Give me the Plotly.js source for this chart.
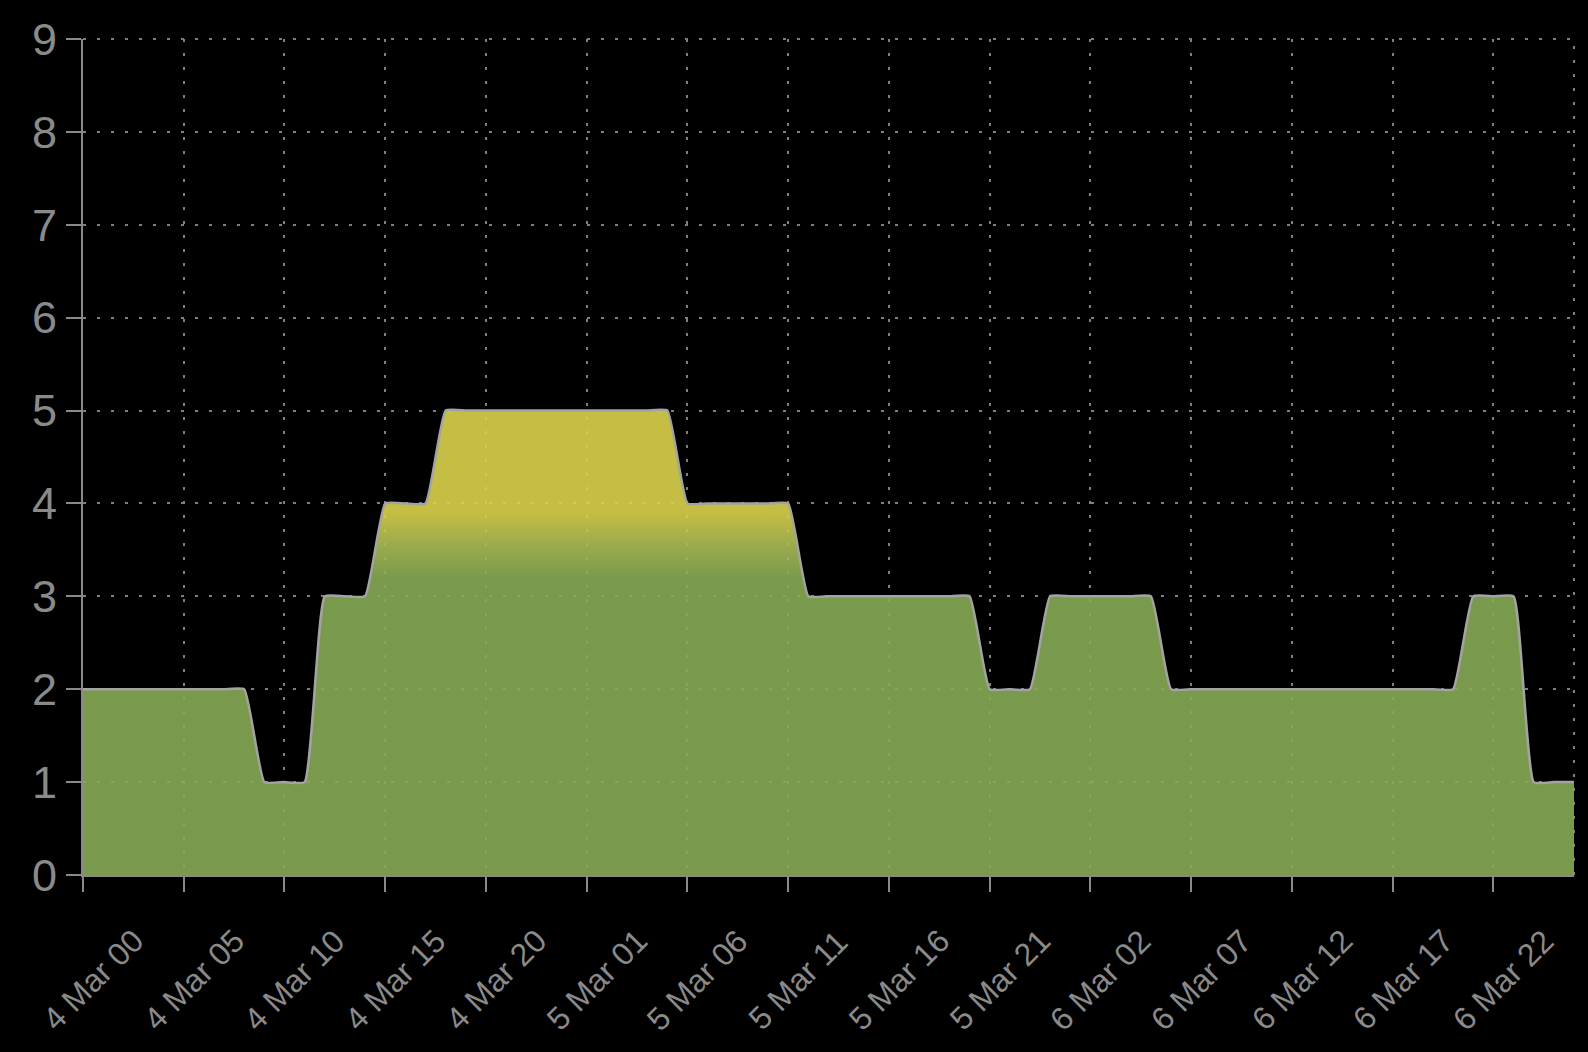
<!DOCTYPE html>
<html>
<head>
<meta charset="utf-8">
<script src="https://cdn.plot.ly/plotly-3.0.1.min.js"></script>
<style>
  html, body { margin: 0; padding: 0; background: #000; }
  #chart { width: 1588px; height: 1052px; }
</style>
</head>
<body>
<div id="chart"></div>
<script>
// Hourly readings starting 4 Mar 00:00
const startTime = '2024-03-04T00:00:00';
const hourlyValues = [
  2, 2, 2, 2, 2, 2, 2, 2, 2,          // 4 Mar 00-08
  1, 1, 1,                            // 09-11
  3, 3, 3,                            // 12-14
  4, 4, 4,                            // 15-17
  5, 5, 5, 5, 5, 5, 5, 5, 5, 5, 5, 5, // 4 Mar 18 - 5 Mar 05
  4, 4, 4, 4, 4, 4,                   // 5 Mar 06-11
  3, 3, 3, 3, 3, 3, 3, 3, 3,          // 5 Mar 12-20
  2, 2, 2,                            // 5 Mar 21-23
  3, 3, 3, 3, 3, 3,                   // 6 Mar 00-05
  2, 2, 2, 2, 2, 2, 2, 2, 2, 2, 2, 2, 2, 2, 2, // 6 Mar 06-20
  3, 3, 3,                            // 6 Mar 21-23
  1, 1, 1                             // 7 Mar 00-02
];
const yTickValues = [0, 1, 2, 3, 4, 5, 6, 7, 8, 9];
const xTickValues = [
  '2024-03-04 00:00', '2024-03-04 05:00', '2024-03-04 10:00', '2024-03-04 15:00',
  '2024-03-04 20:00', '2024-03-05 01:00', '2024-03-05 06:00', '2024-03-05 11:00',
  '2024-03-05 16:00', '2024-03-05 21:00', '2024-03-06 02:00', '2024-03-06 07:00',
  '2024-03-06 12:00', '2024-03-06 17:00', '2024-03-06 22:00'
];
const xTickLabels = [
  '4 Mar 00', '4 Mar 05', '4 Mar 10', '4 Mar 15', '4 Mar 20', '5 Mar 01', '5 Mar 06',
  '5 Mar 11', '5 Mar 16', '5 Mar 21', '6 Mar 02', '6 Mar 07', '6 Mar 12', '6 Mar 17',
  '6 Mar 22'
];

// time stamps for each hourly sample
const t0 = new Date(startTime + 'Z').getTime();
const times = hourlyValues.map((_, i) => {
  const d = new Date(t0 + i * 3600000);
  return d.toISOString().slice(0, 16).replace('T', ' ');
});

const green = 'rgba(135,171,86,0.9)';
const mid = 'rgba(172,190,84,0.9)';
const yellow = 'rgba(219,211,76,0.9)';

const trace = {
  x: times,
  y: hourlyValues,
  type: 'scatter',
  mode: 'lines',
  line: { color: '#a3a3a3', width: 2.5, shape: 'spline', smoothing: 0.4 },
  fill: 'tozeroy',
  fillgradient: {
    type: 'vertical',
    start: 0,
    stop: 5,
    colorscale: [
      [0, green],
      [0.64, green],
      [0.71, mid],
      [0.78, yellow],
      [1, yellow]
    ]
  },
  hoverinfo: 'skip'
};

const grey = '#8a8a8a';
const gridColor = '#808080';
const gridDash = '3px,11px';

const annotations = xTickValues.map((v, i) => ({
  x: v, xref: 'x', y: 0, yref: 'paper',
  text: xTickLabels[i], showarrow: false,
  textangle: -45, xanchor: 'center', yanchor: 'middle',
  xshift: 10, yshift: -105,
  font: { size: 32, color: grey, family: 'Liberation Sans, Arial, sans-serif' }
}));

const layout = {
  width: 1588,
  height: 1052,
  paper_bgcolor: '#000',
  plot_bgcolor: '#000',
  showlegend: false,
  margin: { l: 83, r: 14, t: 39, b: 177 },
  font: { family: 'Liberation Sans, Arial, sans-serif', color: grey },
  xaxis: {
    type: 'date',
    range: [times[0], times[times.length - 1]],
    tickvals: xTickValues,
    showticklabels: false,
    ticks: 'outside',
    ticklen: 15,
    tickwidth: 2,
    tickcolor: grey,
    showline: true,
    linecolor: grey,
    linewidth: 2,
    showgrid: true,
    gridcolor: gridColor,
    gridwidth: 2,
    griddash: gridDash,
    zeroline: false
  },
  yaxis: {
    range: [0, 9],
    tickvals: yTickValues,
    tickfont: { size: 45, color: grey },
    ticks: 'outside',
    ticklen: 15,
    tickwidth: 2,
    tickcolor: grey,
    showline: true,
    linecolor: grey,
    linewidth: 2,
    showgrid: true,
    gridcolor: gridColor,
    gridwidth: 2,
    griddash: gridDash,
    zeroline: false
  },
  annotations: annotations,
  shapes: [
    { type: 'line', xref: 'paper', yref: 'paper', x0: 1, x1: 1, y0: 0, y1: 1,
      line: { color: gridColor, width: 2, dash: gridDash }, layer: 'below' },
    { type: 'line', xref: 'paper', yref: 'paper', x0: 0, x1: 1, y0: 1, y1: 1,
      line: { color: gridColor, width: 2, dash: gridDash }, layer: 'below' }
  ]
};

Plotly.newPlot('chart', [trace], layout, { displayModeBar: false, staticPlot: true });
</script>
</body>
</html>
